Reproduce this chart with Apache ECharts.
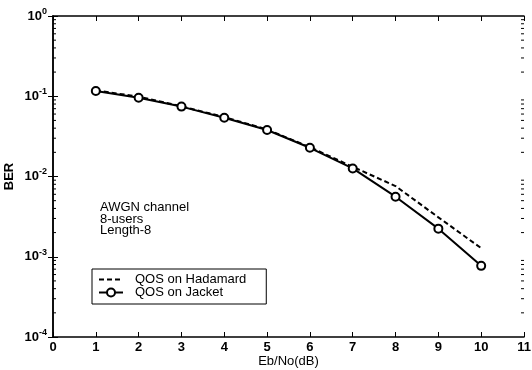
<!DOCTYPE html>
<html><head><meta charset="utf-8">
<script src="https://cdn.jsdelivr.net/npm/echarts@6/dist/echarts.min.js"></script>
<style>html,body{margin:0;padding:0;background:#fff}#c{width:532px;height:370px}</style>
</head><body><div id="c"></div>
<script>
var ebno = [1, 2, 3, 4, 5, 6, 7, 8, 9, 10];
var berHadamard = [0.118, 0.099, 0.075, 0.055, 0.0385, 0.0232, 0.0132, 0.0076, 0.0031, 0.00128];
var berJacket = [0.116, 0.096, 0.0743, 0.054, 0.038, 0.0228, 0.0126, 0.0056, 0.00224, 0.00077];
var seriesNames = ['QOS on Hadamard', 'QOS on Jacket'];
var noteLines = ['AWGN channel', '8-users', 'Length-8'];
var xTicks = [0, 1, 2, 3, 4, 5, 6, 7, 8, 9, 10, 11];
var yDecades = [-4, -3, -2, -1, 0];
var minorMultipliers = [2, 3, 4, 5, 6, 7, 8, 9];

var minorVals = [];
for (var d = 0; d < yDecades.length - 1; d++) {
  for (var m = 0; m < minorMultipliers.length; m++) {
    minorVals.push([xTicks[0], minorMultipliers[m] * Math.pow(10, yDecades[d])]);
  }
}
var FONT = 'Liberation Sans, Arial, sans-serif';
var chart = echarts.init(document.getElementById('c'), null, {renderer: 'canvas'});
var axisLineStyle = {color: '#000', width: 1.5};
chart.setOption({
  animation: false,
  backgroundColor: '#fff',
  grid: {left: 53, top: 16, right: 8, bottom: 33, containLabel: false, outerBoundsMode: 'none'},
  xAxis: [{
    type: 'value', min: xTicks[0], max: xTicks[xTicks.length - 1], interval: 1,
    name: 'Eb/No(dB)', nameLocation: 'middle', nameGap: 18, nameMoveOverlap: false,
    nameTextStyle: {color: '#000', fontFamily: FONT, fontSize: 13},
    axisLine: {lineStyle: axisLineStyle},
    axisTick: {inside: true, length: 5, lineStyle: {color: '#000', width: 1}},
    axisLabel: {color: '#000', fontFamily: FONT, fontSize: 13, fontWeight: 'bold', margin: 4},
    splitLine: {show: false}
  }, {
    type: 'value', position: 'top', min: xTicks[0], max: xTicks[xTicks.length - 1], interval: 1,
    axisLine: {lineStyle: axisLineStyle},
    axisTick: {inside: true, length: 5, lineStyle: {color: '#000', width: 1}},
    axisLabel: {show: false}, splitLine: {show: false}
  }],
  yAxis: [{
    type: 'log', logBase: 10, min: Math.pow(10, yDecades[0]), max: Math.pow(10, yDecades[yDecades.length - 1]),
    name: 'BER', nameLocation: 'middle', nameGap: 37, nameMoveOverlap: false,
    nameTextStyle: {color: '#000', fontFamily: FONT, fontSize: 13, fontWeight: 'bold'},
    axisLine: {lineStyle: axisLineStyle},
    axisTick: {inside: true, length: 5, lineStyle: {color: '#000', width: 1}},
    axisLabel: {
      margin: 6,
      formatter: function (v) { var e = Math.round(Math.log10(v)); return '{b|10}{s|' + (e < 0 ? '-' + (-e) : e) + '}'; },
      rich: {
        b: {color: '#000', fontFamily: FONT, fontSize: 13, fontWeight: 'bold'},
        s: {color: '#000', fontFamily: FONT, fontSize: 9, fontWeight: 'bold', padding: [0, 0, 9, 0]}
      }
    },
    splitLine: {show: false}
  }, {
    type: 'log', logBase: 10, position: 'right', min: Math.pow(10, yDecades[0]), max: Math.pow(10, yDecades[yDecades.length - 1]),
    axisLine: {lineStyle: axisLineStyle},
    axisTick: {inside: true, length: 5, lineStyle: {color: '#000', width: 1}},
    axisLabel: {show: false}, splitLine: {show: false}
  }],
  legend: {
    orient: 'vertical', left: 92, top: 269,
    data: [{name: seriesNames[0], itemStyle: {opacity: 0}}, {name: seriesNames[1]}],
    backgroundColor: '#fff', borderColor: '#000', borderWidth: 1, borderRadius: 0,
    padding: [4, 20, 5, 6], itemGap: 0, itemWidth: 24, itemHeight: 10,
    textStyle: {color: '#000', fontFamily: FONT, fontSize: 13, lineHeight: 12, padding: [0, 0, 0, 7]},
    inactiveColor: '#000'
  },
  graphic: [{
    type: 'text', left: 100, top: 201, silent: true,
    style: {text: noteLines.join('\n'), fill: '#000', font: '13px ' + FONT, lineHeight: 11.5}
  }],
  series: [{
    name: seriesNames[0], type: 'line', xAxisIndex: 0, yAxisIndex: 0,
    data: ebno.map(function (x, i) { return [x, berHadamard[i]]; }),
    symbol: 'none', lineStyle: {color: '#000', width: 2, type: [5, 3]}, itemStyle: {color: '#000'}, z: 3
  }, {
    name: seriesNames[1], type: 'line', xAxisIndex: 0, yAxisIndex: 0,
    data: ebno.map(function (x, i) { return [x, berJacket[i]]; }),
    symbol: 'circle', symbolSize: 8,
    lineStyle: {color: '#000', width: 2}, itemStyle: {color: '#fff', borderColor: '#000', borderWidth: 2}, z: 4
  }, {
    type: 'custom', xAxisIndex: 0, yAxisIndex: 0, silent: true, clip: false, z: 5,
    data: minorVals,
    renderItem: function (params, api) {
      var v = api.value(1);
      var pl = api.coord([xTicks[0], v]);
      var pr = api.coord([xTicks[xTicks.length - 1], v]);
      return {type: 'group', children: [
        {type: 'line', shape: {x1: pl[0], y1: pl[1], x2: pl[0] + 3, y2: pl[1]}, style: {stroke: '#000', lineWidth: 1}},
        {type: 'line', shape: {x1: pr[0], y1: pr[1], x2: pr[0] - 3, y2: pr[1]}, style: {stroke: '#000', lineWidth: 1}}
      ]};
    }
  }]
});
</script></body></html>
